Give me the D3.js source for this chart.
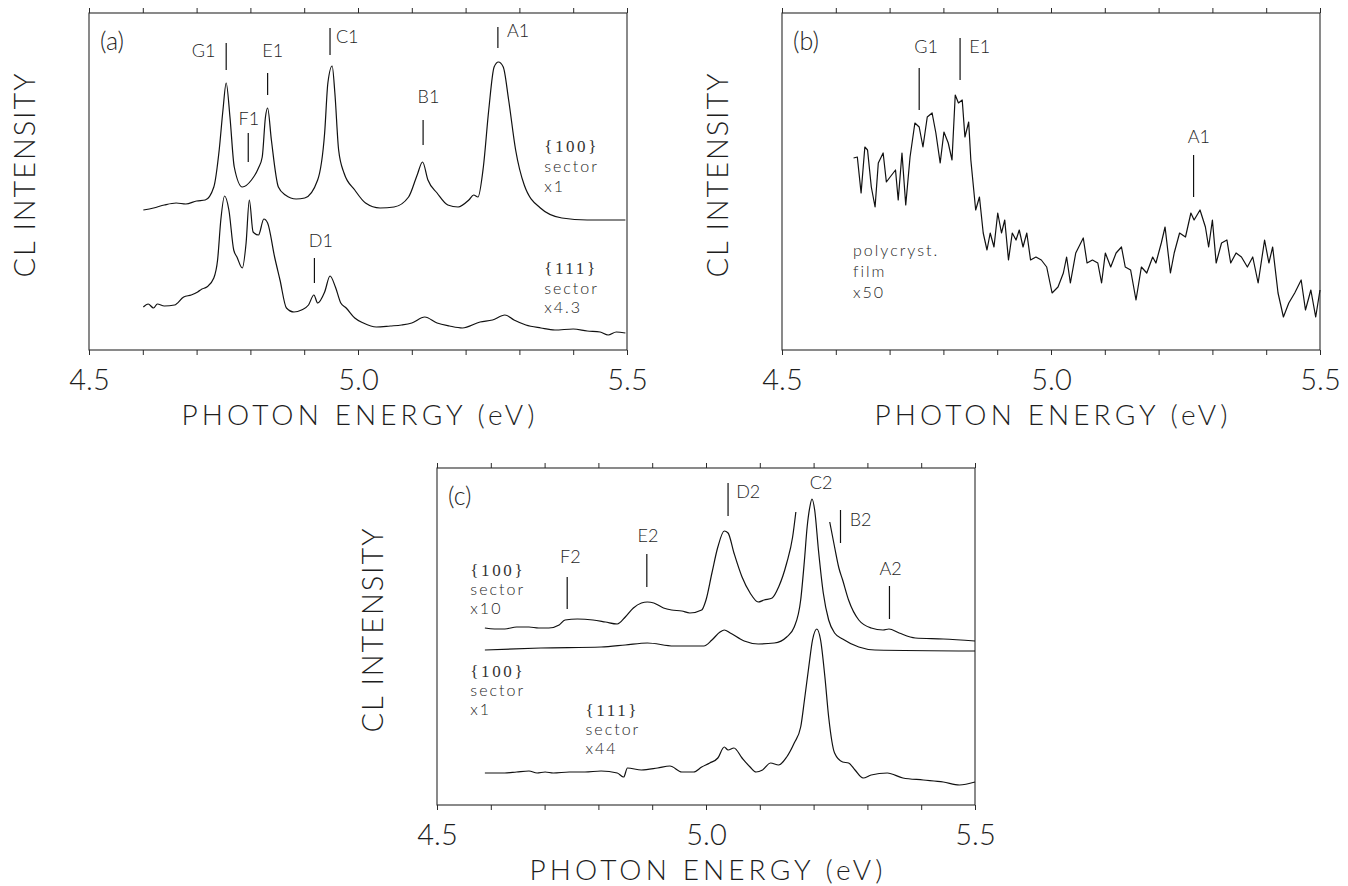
<!DOCTYPE html>
<html>
<head>
<meta charset="utf-8">
<script src="https://cdn.jsdelivr.net/npm/d3@7"></script>
<style>
  body { margin: 0; background: #fff; }
  text { font-family: Lato, "Open Sans", Roboto, sans-serif; font-weight: 300; fill: #1e1e1e; }
  .brace { font-family: "Liberation Serif", "DejaVu Serif", serif; font-weight: 400; fill: #333; }
</style>
</head>
<body>
<div id="chart"></div>
<script>
// ---------------- data (energy in eV, intensity in arbitrary units) ----------------
const tickValues = d3.range(0, 11).map(i => +(4.5 + i / 10).toFixed(1));
const tickLabels = ["4.5", "5.0", "5.5"];

// panel (a) {100} sector x1
const a100 = [
  [4.601,140],[4.62,142],[4.64,145],[4.662,147],[4.68,146],[4.70,149],[4.716,150],[4.732,163],
  [4.742,200],[4.749,240],[4.755,267],[4.762,233],[4.770,183],[4.785,163],[4.802,170],[4.815,182],
  [4.822,193],[4.828,233],[4.832,242],[4.839,210],[4.852,163],[4.865,155],[4.885,151],[4.901,152],
  [4.925,170],[4.938,217],[4.944,267],[4.952,284],[4.957,257],[4.964,200],[4.974,177],[4.994,160],
  [5.014,147],[5.041,142],[5.067,143],[5.094,153],[5.110,175],[5.120,188],[5.130,170],[5.147,157],
  [5.167,145],[5.186,143],[5.206,150],[5.215,155],[5.223,153],[5.233,183],[5.243,240],[5.253,283],
  [5.261,288],[5.270,283],[5.280,250],[5.293,200],[5.309,165],[5.339,142],[5.379,132],[5.426,130],
  [5.497,130]
];
// panel (a) {111} sector x4.3
const a111 = [
  [4.601,43],[4.610,46],[4.620,42],[4.627,46],[4.640,44],[4.659,45],[4.676,53],[4.690,55],[4.702,58],
  [4.710,61],[4.719,63],[4.732,72],[4.739,90],[4.745,130],[4.752,154],[4.760,140],[4.769,100],
  [4.775,93],[4.785,82],[4.792,107],[4.798,150],[4.805,118],[4.815,115],[4.825,131],[4.832,127],
  [4.845,93],[4.855,70],[4.867,42],[4.881,38],[4.895,40],[4.908,45],[4.918,55],[4.925,47],[4.938,58],
  [4.948,74],[4.958,63],[4.968,47],[4.978,42],[4.994,32],[5.01,27],[5.034,23],[5.06,24],[5.081,25],
  [5.10,27],[5.124,33],[5.147,27],[5.17,24],[5.194,22],[5.227,28],[5.25,30],[5.273,35],[5.29,30],
  [5.312,25],[5.34,22],[5.366,20],[5.40,21],[5.426,19],[5.45,18],[5.465,15],[5.48,18],[5.497,17]
];
// panel (b) polycrystalline film x50
const bFilm = [
  [4.633,192],[4.640,193],[4.647,157],[4.654,203],[4.659,200],[4.666,163],[4.673,143],[4.679,187],
  [4.688,197],[4.694,168],[4.701,173],[4.711,180],[4.716,150],[4.723,197],[4.730,145],[4.738,193],
  [4.747,227],[4.755,223],[4.762,203],[4.770,233],[4.779,237],[4.786,217],[4.794,187],[4.801,218],
  [4.809,207],[4.816,190],[4.822,255],[4.828,247],[4.835,250],[4.840,213],[4.847,228],[4.851,190],
  [4.860,140],[4.867,153],[4.874,117],[4.881,100],[4.887,117],[4.894,103],[4.901,137],[4.908,117],
  [4.914,130],[4.921,90],[4.928,117],[4.935,110],[4.941,120],[4.948,103],[4.955,117],[4.962,90],
  [4.972,93],[4.982,90],[4.992,83],[5.002,57],[5.013,63],[5.023,77],[5.029,93],[5.036,67],[5.046,97],
  [5.060,112],[5.067,87],[5.077,90],[5.087,87],[5.094,67],[5.101,97],[5.111,83],[5.121,97],
  [5.131,103],[5.138,83],[5.148,80],[5.158,50],[5.168,83],[5.178,77],[5.189,93],[5.195,87],
  [5.205,107],[5.212,123],[5.222,77],[5.229,97],[5.239,117],[5.250,113],[5.260,137],[5.266,130],
  [5.277,140],[5.287,123],[5.293,103],[5.300,130],[5.307,87],[5.317,107],[5.327,110],[5.334,87],
  [5.344,97],[5.354,93],[5.365,83],[5.375,93],[5.385,67],[5.397,110],[5.405,87],[5.412,103],
  [5.422,57],[5.432,33],[5.442,47],[5.453,57],[5.465,70],[5.473,40],[5.483,60],[5.492,33],[5.500,60]
];
// panel (c) {100} sector x10 (clipped around C2, null = gap)
const c100x10 = [
  [4.589,177],[4.607,176],[4.626,176],[4.648,178],[4.671,178],[4.689,177],[4.708,177],[4.727,180],
  [4.738,185],[4.761,186],[4.790,185],[4.813,183],[4.835,181],[4.850,188],[4.865,197],[4.880,202],
  [4.891,203],[4.903,202],[4.921,197],[4.936,195],[4.955,194],[4.970,192],[4.992,195],
  [5.000,205],[5.011,232],[5.022,258],[5.034,274],[5.041,272],[5.052,252],[5.067,228],[5.082,212],
  [5.097,203],[5.108,205],[5.123,207],[5.135,218],[5.150,242],[5.161,268],[5.167,293],[5.20,null],
  [5.230,283],[5.239,258],[5.247,237],[5.254,225],[5.265,205],[5.284,185],[5.307,177],[5.329,175],
  [5.340,176],[5.359,172],[5.389,167],[5.441,166],[5.500,164]
];
// panel (c) {100} sector x1
const c100x1 = [
  [4.589,155],[4.693,157],[4.805,158],[4.850,160],[4.891,162],[4.940,159],[4.996,159],[5.011,165],
  [5.026,173],[5.034,175],[5.045,172],[5.071,164],[5.097,161],[5.127,162],[5.150,168],[5.164,178],
  [5.176,205],[5.183,245],[5.188,278],[5.193,298],[5.197,306],[5.202,295],[5.209,255],[5.218,212],
  [5.228,185],[5.239,172],[5.254,166],[5.284,158],[5.314,155],[5.500,154]
];
// panel (c) {111} sector x44
const c111x44 = [
  [4.589,32],[4.611,32],[4.626,32],[4.648,33],[4.671,34],[4.686,32],[4.701,33],[4.716,32],[4.746,33],
  [4.775,33],[4.805,34],[4.835,32],[4.847,28],[4.854,37],[4.880,35],[4.910,37],[4.933,39],[4.955,33],
  [4.977,33],[4.992,38],[5.007,42],[5.022,47],[5.034,58],[5.041,55],[5.052,57],[5.067,47],[5.082,38],
  [5.093,33],[5.105,35],[5.120,42],[5.135,40],[5.150,48],[5.164,62],[5.176,78],[5.183,105],
  [5.191,138],[5.198,165],[5.206,176],[5.213,165],[5.221,128],[5.228,88],[5.239,52],[5.254,43],
  [5.265,42],[5.277,35],[5.292,27],[5.307,30],[5.337,32],[5.366,27],[5.404,25],[5.441,23],
  [5.471,20],[5.500,23]
];

// peak markers: label, line energy, line [from,to], text energy, text baseline, anchor
const peaksA = [
  { name: "G1", e: 4.755, v: [280, 307], te: 4.735, tv: 293, anchor: "end" },
  { name: "E1", e: 4.832, v: [255, 277], te: 4.822, tv: 293, anchor: "start" },
  { name: "F1", e: 4.796, v: [188, 217], te: 4.797, tv: 225, anchor: "middle" },
  { name: "C1", e: 4.948, v: [295, 322], te: 4.959, tv: 307, anchor: "start" },
  { name: "B1", e: 5.121, v: [205, 230], te: 5.131, tv: 247, anchor: "middle" },
  { name: "A1", e: 5.260, v: [302, 323], te: 5.277, tv: 313, anchor: "start" },
  { name: "D1", e: 4.919, v: [67, 92], te: 4.931, tv: 103, anchor: "middle" }
];
const peaksB = [
  { name: "G1", e: 4.755, v: [240, 282], te: 4.768, tv: 297, anchor: "middle" },
  { name: "E1", e: 4.831, v: [270, 312], te: 4.848, tv: 297, anchor: "start" },
  { name: "A1", e: 5.265, v: [153, 195], te: 5.275, tv: 207, anchor: "middle" }
];
const peaksC = [
  { name: "D2", e: 5.041, v: [289, 322], te: 5.056, tv: 307, anchor: "start" },
  { name: "C2", e: null, v: null, te: 5.214, tv: 316, anchor: "middle" },
  { name: "B2", e: 5.250, v: [262, 295], te: 5.267, tv: 279, anchor: "start" },
  { name: "E2", e: 4.890, v: [218, 251], te: 4.892, tv: 263, anchor: "middle" },
  { name: "F2", e: 4.742, v: [196, 228], te: 4.748, tv: 242, anchor: "middle" },
  { name: "A2", e: 5.341, v: [186, 219], te: 5.343, tv: 230, anchor: "middle" }
];

// series notes: text lines with energy / baseline of each line
const notesA = [
  { e: 5.346, v: [198, 178, 158], lines: ["{100}", "sector", "x1"] },
  { e: 5.346, v: [76, 56, 37], lines: ["{111}", "sector", "x4.3"] }
];
const notesB = [
  { e: 4.632, v: [94, 73, 52], lines: ["polycryst.", "film", "x50"] }
];
const notesC = [
  { e: 4.562, v: [229, 210, 191], lines: ["{100}", "sector", "x10"] },
  { e: 4.562, v: [128, 109, 90], lines: ["{100}", "sector", "x1"] },
  { e: 4.776, v: [89, 70, 51], lines: ["{111}", "sector", "x44"] }
];

// ---------------- drawing ----------------
const width = 538, height = 337;

const svg = d3.select("#chart")
  .append("svg")
    .attr("width", 1348)
    .attr("height", 886);

const panels = [
  { tag: "(a)", left: 89,  top: 13,  series: [a100, a111], curve: d3.curveMonotoneX, peaks: peaksA, notes: notesA },
  { tag: "(b)", left: 782, top: 13,  series: [bFilm], curve: d3.curveLinear, peaks: peaksB, notes: notesB },
  { tag: "(c)", left: 437, top: 468, series: [c100x10, c100x1, c111x44], curve: d3.curveMonotoneX, peaks: peaksC, notes: notesC }
];

panels.forEach(p => {
  const g = svg.append("g").attr("transform", `translate(${p.left},${p.top})`);

  const x = d3.scaleLinear().domain([4.5, 5.5]).range([0, width]);
  const y = d3.scaleLinear().domain([0, height]).range([height, 0]);

  // frame
  g.append("rect")
    .attr("width", width).attr("height", height)
    .attr("fill", "none").attr("stroke", "#2a2a2a").attr("stroke-width", 1.1);

  // bottom axis with labels at 4.5, 5.0, 5.5
  const bottom = g.append("g")
    .attr("transform", `translate(0,${height})`)
    .call(d3.axisBottom(x).tickValues(tickValues).tickSize(5).tickSizeOuter(0)
      .tickFormat(d => tickLabels.includes(d.toFixed(1)) ? d.toFixed(1) : ""));
  bottom.select(".domain").remove();
  bottom.selectAll("line").attr("stroke", "#2a2a2a");
  bottom.selectAll("text")
    .attr("y", 40).attr("dy", 0)
    .style("font-size", "29px").style("fill", "#1e1e1e");

  // top axis (ticks only)
  const topAx = g.append("g")
    .call(d3.axisTop(x).tickValues(tickValues).tickSize(5).tickSizeOuter(0).tickFormat(""));
  topAx.select(".domain").remove();
  topAx.selectAll("line").attr("stroke", "#2a2a2a");

  // axis titles
  g.append("text")
    .attr("x", width / 2).attr("y", height + 75)
    .attr("text-anchor", "middle")
    .attr("textLength", 353).attr("lengthAdjust", "spacing")
    .style("font-size", "28px")
    .text("PHOTON ENERGY (eV)");

  g.append("text")
    .attr("transform", `translate(-54,${height / 2 - 6}) rotate(-90)`)
    .attr("text-anchor", "middle")
    .attr("textLength", 204).attr("lengthAdjust", "spacing")
    .style("font-size", "29px")
    .text("CL INTENSITY");

  // panel tag
  g.append("text")
    .attr("x", 11).attr("y", 37)
    .style("font-size", "25px")
    .text(p.tag);

  // spectra
  const line = d3.line()
    .defined(d => d[1] != null)
    .x(d => x(d[0]))
    .y(d => y(d[1]))
    .curve(p.curve);

  g.selectAll("path.spectrum")
    .data(p.series)
    .join("path")
      .attr("class", "spectrum")
      .attr("d", line)
      .attr("fill", "none")
      .attr("stroke", "#111")
      .attr("stroke-width", 1.2)
      .attr("stroke-linejoin", "round");

  // peak markers
  g.selectAll("line.peak")
    .data(p.peaks.filter(d => d.e != null))
    .join("line")
      .attr("class", "peak")
      .attr("x1", d => x(d.e)).attr("x2", d => x(d.e))
      .attr("y1", d => y(d.v[0])).attr("y2", d => y(d.v[1]))
      .attr("stroke", "#111").attr("stroke-width", 1.2);

  g.selectAll("text.peak")
    .data(p.peaks)
    .join("text")
      .attr("class", "peak")
      .attr("x", d => x(d.te)).attr("y", d => y(d.tv))
      .attr("text-anchor", d => d.anchor)
      .style("font-size", "18px")
      .text(d => d.name);

  // series notes
  p.notes.forEach(n => {
    g.selectAll(null)
      .data(n.lines)
      .join("text")
        .attr("class", d => d.startsWith("{") ? "brace" : null)
        .attr("x", x(n.e))
        .attr("y", (d, i) => y(n.v[i]))
        .style("font-size", d => d.startsWith("{") ? "17px" : "16px")
        .style("letter-spacing", d => d.startsWith("{") ? "2.6px" : "2px")
        .text(d => d);
  });
});
</script>
</body>
</html>
